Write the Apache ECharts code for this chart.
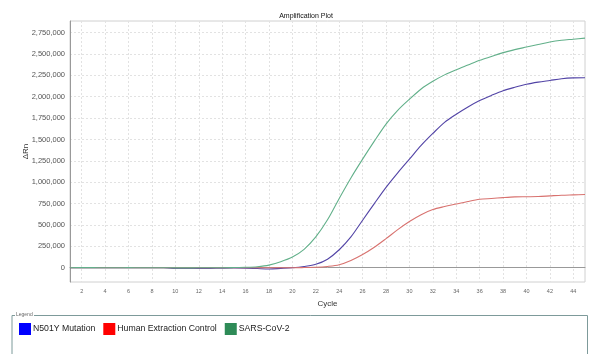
<!DOCTYPE html>
<html><head><meta charset="utf-8">
<script src="https://cdn.jsdelivr.net/npm/echarts@6/dist/echarts.min.js"></script>
<style>html,body{margin:0;padding:0;background:#fff}#c{width:589px;height:354px}</style>
</head><body><div id="c"></div>
<script>
const cycles = [];
for (let i = 1; i <= 45; i++) cycles.push(i);
const seriesNames = ['N501Y Mutation', 'Human Extraction Control', 'SARS-CoV-2'];
const n501y = [0,0,0,0,0,0,0,0,0,-8000,-10000,-10000,-8000,-5000,-3000,-5000,-10000,-15000,-8000,0,15000,40000,100000,210000,360000,555000,750000,940000,1110000,1270000,1430000,1570000,1700000,1795000,1880000,1955000,2015000,2070000,2110000,2145000,2170000,2190000,2210000,2220000,2222000];
const human = [0,0,0,0,0,0,0,0,0,0,0,0,0,0,0,0,0,0,0,0,2000,5000,15000,35000,85000,155000,240000,340000,445000,540000,620000,680000,715000,745000,775000,800000,810000,820000,828000,830000,832000,840000,848000,852000,856000];
const sars = [0,1000,1000,0,0,1000,0,0,0,-2000,-2000,-1000,0,0,2000,5000,12000,30000,70000,125000,215000,360000,560000,810000,1050000,1270000,1480000,1680000,1840000,1970000,2090000,2180000,2255000,2315000,2370000,2425000,2470000,2515000,2550000,2580000,2610000,2640000,2660000,2672000,2685000];
const xTicks = [2,4,6,8,10,12,14,16,18,20,22,24,26,28,30,32,34,36,38,40,42,44];
const yTicks = [0,250000,500000,750000,1000000,1250000,1500000,1750000,2000000,2250000,2500000,2750000];
const lineColors = ['#5244a6', '#d8726f', '#62b08a'];
const legendColors = ['#0000ff', '#ff0000', '#2e8b57'];

const values = [n501y, human, sars];
const chart = echarts.init(document.getElementById('c'), null, {renderer: 'canvas'});
const gridLine = {show: true, lineStyle: {color: '#e2e2e2', type: [2, 2], width: 1}};
chart.setOption({
  animation: false,
  title: {text: 'Amplification Plot', left: 301, textAlign: 'center', top: 8,
    textStyle: {fontSize: 7, fontWeight: 'normal', color: '#111', fontFamily: 'Liberation Sans'}},
  grid: {left: 70, right: 4, top: 21, bottom: 72, show: true, borderColor: '#d0d0d0', borderWidth: 1},
  legend: {
    left: 14, top: 318, icon: 'rect', itemWidth: 12, itemHeight: 12, itemGap: 8,
    textStyle: {fontSize: 8.7, color: '#222', fontFamily: 'Liberation Sans', padding: [0,0,0,-3]},
    data: seriesNames.map((n, i) => ({name: n, itemStyle: {color: legendColors[i]}}))
  },
  xAxis: {
    type: 'value', min: 1, max: 45,
    name: 'Cycle', nameLocation: 'middle', nameGap: 18, nameMoveOverlap: false,
    nameTextStyle: {fontSize: 8, color: '#333', fontFamily: 'Liberation Sans'},
    axisLine: {show: true, lineStyle: {color: '#999'}},
    axisTick: {show: false, customValues: xTicks},
    axisLabel: {customValues: xTicks, fontSize: 5.5, color: '#666', margin: 6, fontFamily: 'Liberation Sans'},
    splitLine: gridLine
  },
  yAxis: {
    type: 'value', min: -167000, max: 2885000,
    name: 'ΔRn', nameLocation: 'middle', nameGap: 40, nameRotate: 90, nameMoveOverlap: false,
    nameTextStyle: {fontSize: 8, color: '#333', fontFamily: 'Liberation Sans'},
    axisLine: {show: true, lineStyle: {color: '#999'}},
    axisTick: {show: false, customValues: yTicks},
    axisLabel: {customValues: yTicks, fontSize: 7.5, color: '#555', margin: 5, fontFamily: 'Liberation Sans',
      formatter: v => v.toLocaleString('en-US')},
    splitLine: gridLine
  },
  series: seriesNames.map((n, i) => ({
    name: n, type: 'line', showSymbol: false, smooth: 0.3,
    lineStyle: {color: lineColors[i], width: 1.1},
    itemStyle: {color: lineColors[i]},
    data: cycles.map((c, k) => [c, values[i][k]])
  })),
  graphic: [
    {type: 'polyline', shape: {points: [[12, 354], [12, 315.5], [15, 315.5]]}, style: {stroke: '#7d9a9a', fill: null, lineWidth: 1}},
    {type: 'polyline', shape: {points: [[34, 315.5], [587.5, 315.5], [587.5, 354]]}, style: {stroke: '#7d9a9a', fill: null, lineWidth: 1}},
    {type: 'text', left: 16, top: 312, style: {text: 'Legend', fontSize: 5, fill: '#666', fontFamily: 'Liberation Sans'}}
  ]
});
</script></body></html>
